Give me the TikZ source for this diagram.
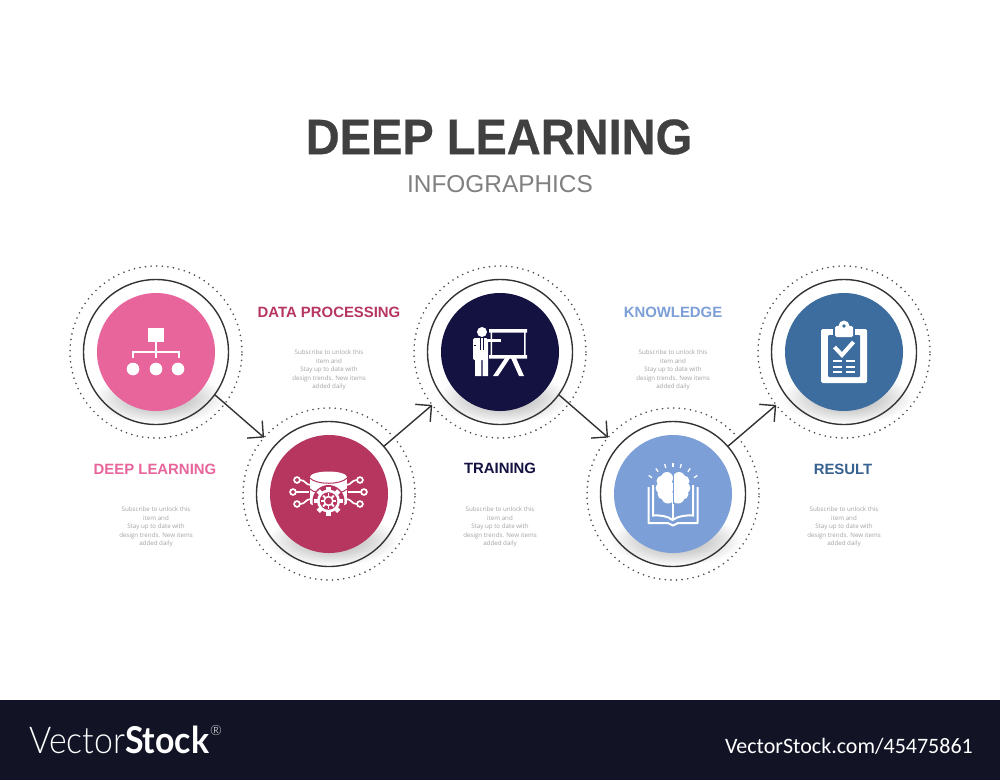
\documentclass[tikz,border=0pt]{standalone}
\usepackage{fontspec}
\setmainfont{Liberation Sans}
\newfontfamily\titlefont{Liberation Sans}[BoldFeatures={FakeBold=0.5}]
\newfontfamily\notefont{Open Sans}
\newfontfamily\barfont{Carlito}
\newfontfamily\logolight{Lato Light}
\newfontfamily\logobold{Lato}[BoldFont={Lato Bold}]
\usetikzlibrary{arrows.meta}

\definecolor{stepone}{HTML}{E8659C}
\definecolor{steptwo}{HTML}{B6365F}
\definecolor{stepthree}{HTML}{141240}
\definecolor{stepfour}{HTML}{7B9FD6}
\definecolor{stepfive}{HTML}{3D6C9E}
\definecolor{barcolor}{HTML}{121426}
\definecolor{titlegray}{HTML}{404040}

\tikzset{
	disk/.style = {circle, inner sep = 0, outer sep = 0, minimum size = 118pt},
	ring/.style = {circle, draw = black!80, line width = 1.4pt, inner sep = 0, outer sep = 0, minimum size = 145pt},
	halo/.style = {circle, draw = black!70, line width = 1.8pt, dash pattern = on 0pt off 5.6pt, line cap = round, inner sep = 0, outer sep = 0, minimum size = 172pt},
	flow/.style = {draw = black!80, line width = 1.4pt, -{Straight Barb[length = 11.5pt, width = 23pt, line width = 1.4pt]}},
	steplabel/.style = {font = \fontsize{14.9}{18}\selectfont\bfseries},
	stepnote/.style = {align = center, text = black!36, font = \notefont\fontsize{6.2}{8.6}\selectfont},
	icon/.style = {fill = white, draw = none}
}

\newcommand{\notetext}{Subscribe to unlock this\\item and\\Stay up to date with\\design trends. New items\\added daily}

\begin{document}
\begin{tikzpicture}[x = 1pt, y = -1pt]
	\useasboundingbox (0,0) rectangle (1000,780);
	\fill [white] (0,0) rectangle (1000,780);

	\node [font = \titlefont\fontsize{47}{50}\selectfont\bfseries, text = titlegray] (title) at (499,137) {\scalebox{1}[1.06]{DEEP LEARNING}};
	\node [font = \fontsize{24.4}{26}\selectfont, text = black!50] (subtitle) at (500,184) {INFOGRAPHICS};

	\foreach \n/\x/\y/\c in {1/156/352/stepone, 2/329/494/steptwo, 3/500/352/stepthree, 4/673/494/stepfour, 5/844/352/stepfive}
	{
		\shade [inner color = black!36, outer color = white] (\x+3,\y+46) ellipse [x radius = 66, y radius = 26];
		\node [halo] (halo\n) at (\x,\y) {};
		\node [ring] (ring\n) at (\x,\y) {};
		\node [disk, fill = \c] (disk\n) at (\x,\y) {};
	}

	\draw [flow] (ring1.-36) -- (halo2.139);
	\draw [flow] (ring2.41) -- (halo3.218);
	\draw [flow] (ring3.-36) -- (halo4.139);
	\draw [flow] (ring4.41) -- (halo5.218);

	\node [steplabel, text = stepone] (label1) at (155,469) {DEEP LEARNING};
	\node [steplabel, text = steptwo] (label2) at (329,312) {DATA PROCESSING};
	\node [steplabel, text = stepthree] (label3) at (500,468) {TRAINING};
	\node [steplabel, text = stepfour] (label4) at (673,312) {KNOWLEDGE};
	\node [steplabel, text = stepfive!90!black] (label5) at (843,469) {RESULT};

	\node [stepnote] (note1) at (156,527) {\notetext};
	\node [stepnote] (note2) at (329,370) {\notetext};
	\node [stepnote] (note3) at (500,527) {\notetext};
	\node [stepnote] (note4) at (673,370) {\notetext};
	\node [stepnote] (note5) at (844,527) {\notetext};

	\fill [icon] (148,328) rectangle (164,342);
	\draw [white, line width = 2.6pt] (156,342) -- (156,358) (133,358) -- (133,352) -- (179,352) -- (179,358);
	\foreach \x in {133,156,178}
	{
		\fill [icon] (\x,369) circle [radius = 6.3];
	}

	\begin{scope}[white, line width = 1.7pt]
		\foreach \y/\l/\r in {480/297/360, 492/293/364, 504/297/360}
		{
			\draw (\l,\y) circle [radius = 2.9];
			\draw (\r,\y) circle [radius = 2.9];
		}
		\draw (300,480) .. controls (306,480) and (305,485) .. (311,485);
		\draw (296,492) -- (309,492);
		\draw (300,504) .. controls (306,504) and (305,499) .. (311,499);
		\draw (357,480) .. controls (351,480) and (352,485) .. (346,485);
		\draw (361,492) -- (348,492);
		\draw (357,504) .. controls (351,504) and (352,499) .. (346,499);
	\end{scope}
	\fill [icon] (310,477) rectangle (347,503);
	\fill [icon] (328.5,503) ellipse [x radius = 18.5, y radius = 4];
	\fill [icon] (328.5,477) ellipse [x radius = 18.5, y radius = 5.5];
	\draw [steptwo, line width = 1pt] (310,478) .. controls (316,485) and (341,485) .. (347,478);
	\draw [steptwo, line width = 1pt] (310,489) .. controls (313,491) and (314,492) .. (316,492) (347,489) .. controls (344,491) and (343,492) .. (341,492);
	\fill [steptwo] (328.5,501) circle [radius = 16];
	\foreach \a in {0,45,...,315}
	{
		\draw [white, line width = 4.6pt] (328.5,501) ++(\a:9) -- ++(\a:5.5);
	}
	\fill [icon] (328.5,501) circle [radius = 11.5];
	\fill [steptwo] (328.5,501) circle [radius = 8.8];
	\foreach \a in {0,45,...,315}
	{
		\draw [white, line width = 1.8pt] (328.5,501) ++(\a:4) -- ++(\a:3.6);
	}
	\draw [white, line width = 1.5pt] (328.5,501) circle [radius = 4.4];

	\fill [icon] (482,332) circle [radius = 5];
	\fill [icon, rounded corners = 1.5pt] (473,338) rectangle (488,360);
	\fill [icon] (475,358) rectangle (481.3,376) (482.7,358) rectangle (488,376);
	\fill [icon] (488,339) rectangle (501,342);
	\draw [stepthree, line width = 0.7pt] (480.5,338) -- (480.5,350) (483.5,338) -- (483.5,350) (473.5,345) -- (475.5,345);
	\fill [icon] (489,329) rectangle (527,332.5) (489,355) rectangle (527,358.5);
	\fill [icon] (490.5,332) rectangle (492,355) (524,332) rectangle (525.5,355);
	\fill [icon] (505,358) -- (510,358) -- (498,376) -- (493,376) -- cycle;
	\fill [icon] (511,358) -- (516,358) -- (524,376) -- (519,376) -- cycle;

	\foreach \a in {-144,-125,-106,-90,-74,-55,-36}
	{
		\draw [white, line width = 1.3pt] (673,493) ++(\a:26) -- ++(\a:4);
	}
	\draw [white, line width = 2pt, line join = round] (648.5,487) -- (648.5,523) -- (668,523) .. controls (670,523) and (671,525.5) .. (673,525.5) .. controls (675,525.5) and (676,523) .. (678,523) -- (697.5,523) -- (697.5,487);
	\draw [white, line width = 2pt] (653,485) -- (653,515.5) .. controls (660,515) and (668,516) .. (672.5,520) .. controls (678,516) and (686,515) .. (693,515.5) -- (693,485);
	\draw [white, line width = 1.4pt] (673,500) -- (673,520);
	\foreach \s in {-1,1}
	{
		\foreach \dx/\dy/\r in {6/-10/6, 11/-7/5.5, 12/0/5.5, 10/6/5.5, 5/9/6.5, 6/-1/7}
		{
			\fill [icon] (673+\s*\dx,488+\dy) circle [radius = \r];
		}
	}
	\draw [stepfour, line width = 0.9pt] (673,472) -- (673,504);

	\fill [icon, rounded corners = 1.5pt] (821,329) rectangle (867,383);
	\fill [stepfive, rounded corners = 1pt] (828,335) rectangle (860,377);
	\fill [stepfive] (833,327) rectangle (855,339);
	\fill [icon, rounded corners = 1.5pt] (835,326) rectangle (853,337);
	\fill [icon] (844,326) circle [radius = 5.5];
	\fill [stepfive] (844,326) circle [radius = 1.8];
	\draw [white, line width = 4pt] (834.5,347) -- (842,355) -- (853.5,342);
	\foreach \y in {361,367,372}
	{
		\draw [white, line width = 2.2pt] (833,\y) -- (842,\y) (846,\y) -- (855,\y);
	}

	\fill [barcolor] (0,700) rectangle (1000,780);
	\node [anchor = base west, inner sep = 0, text = white, font = \fontsize{37}{40}\selectfont] (logo) at (29,753) {\scalebox{0.915}[1]{{\logolight Vector}{\logobold\bfseries Stock}}};
	\node [inner sep = 0, text = white, font = \logolight\fontsize{14}{14}\selectfont] (logomark) at (216,731) {\textregistered};
	\node [anchor = base east, inner sep = 0, text = white, font = \barfont\fontsize{22}{24}\selectfont] (barcode) at (973,753) {VectorStock.com/45475861};
\end{tikzpicture}
\end{document}
